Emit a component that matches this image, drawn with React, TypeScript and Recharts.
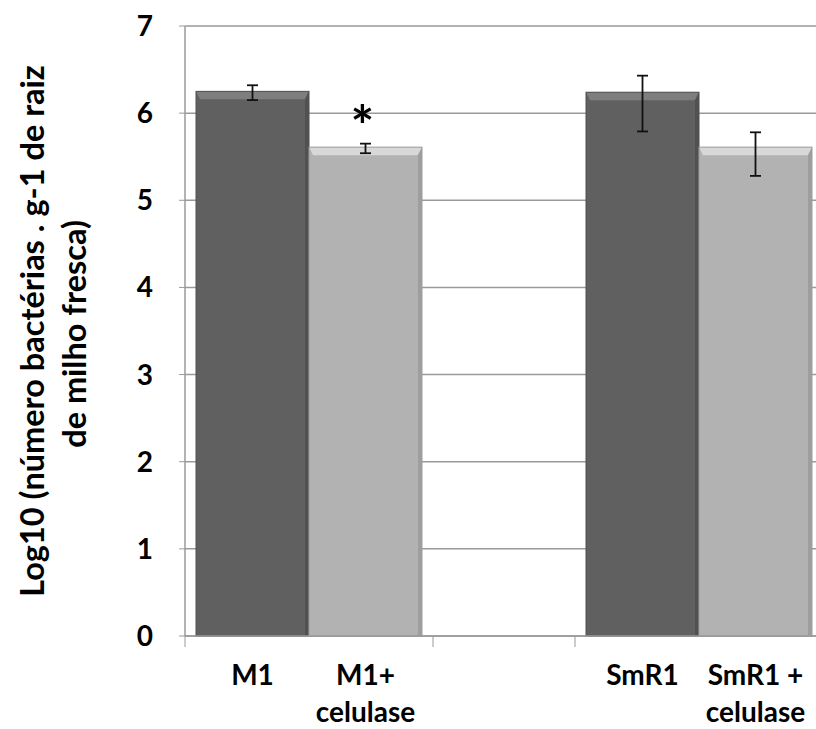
import {
  Bar,
  BarChart,
  CartesianGrid,
  ErrorBar,
  LabelList,
  XAxis,
  YAxis,
} from "recharts";

const grupos = ["M1", "SmR1"];
const semCelulase = [6.25, 6.24];
const comCelulase = [5.61, 5.61];
// [abaixo, acima]
const erroSem = [
  [0.1, 0.07],
  [0.45, 0.19],
];
const erroCom = [
  [0.07, 0.04],
  [0.33, 0.17],
];
const significancia = ["*", ""];
const rotulosSem = [["M1"], ["SmR1"]];
const rotulosCom = [
  ["M1+", "celulase"],
  ["SmR1 +", "celulase"],
];
const yTicks = [0, 1, 2, 3, 4, 5, 6, 7];

const data = grupos.map((grupo, i) => ({
  grupo,
  sem: semCelulase[i],
  com: comCelulase[i],
  erroSem: erroSem[i],
  erroCom: erroCom[i],
  sig: significancia[i],
}));

const GRID = "#9a9a9a";
const FONT = "Lato, 'Noto Sans', sans-serif";

const bevelBar = (base: string, top: string, side: string) => (props: any) => {
  const { x, y, width, height } = props;
  if (!height || height <= 0) return null;
  const b = 8;
  const s = 4;
  return (
    <g>
      <rect x={x} y={y} width={width} height={height} fill={base} />
      <polygon
        points={`${x},${y} ${x + width},${y} ${x + width - s},${y + b} ${x + s},${y + b}`}
        fill={top}
      />
      <polygon
        points={`${x + width},${y} ${x + width},${y + height} ${x + width - s},${y + height} ${x + width - s},${y + b}`}
        fill={side}
      />
      <rect x={x} y={y} width={width} height={height} fill="none" stroke={side} strokeWidth={1} />
    </g>
  );
};

const GroupTick = (props: any) => {
  const { x, y, index } = props;
  const lines: [string[], number][] = [
    [rotulosSem[index], -56.5],
    [rotulosCom[index], 56.5],
  ];
  return (
    <g>
      <line x1={x - 124} x2={x - 124} y1={y} y2={y + 11} stroke={GRID} />
      <line x1={x + 124} x2={x + 124} y1={y} y2={y + 11} stroke={GRID} />
      {lines.map(([txt, dx], j) =>
        txt.map((t, k) => (
          <text
            key={`${j}-${k}`}
            x={x + dx}
            y={y + 49 + k * 37}
            textAnchor="middle"
            fontSize={28}
            fontWeight={700}
            fontFamily={FONT}
            fill="#000"
          >
            {t}
          </text>
        ))
      )}
    </g>
  );
};

const YTitle = (props: any) => {
  const { viewBox } = props;
  const cy = viewBox.y + viewBox.height / 2;
  const common = {
    textAnchor: "middle" as const,
    dominantBaseline: "central" as const,
    fontSize: 32.5,
    fontWeight: 700,
    fontFamily: FONT,
    fill: "#000",
  };
  return (
    <g>
      <text x={31} y={cy} transform={`rotate(-90, 31, ${cy})`} {...common}>
        Log10 (número bactérias . g-1 de raiz
      </text>
      <text x={73} y={cy + 3} transform={`rotate(-90, 73, ${cy + 3})`} {...common}>
        de milho fresca)
      </text>
    </g>
  );
};

const Asterisco = (props: any) => {
  const { x, y, width, value } = props;
  if (!value) return null;
  return (
    <text
      x={x + width / 2 - 3}
      y={y - 1}
      textAnchor="middle"
      fontSize={56}
      fontWeight={700}
      fontFamily={FONT}
      fill="#000"
    >
      {value}
    </text>
  );
};

export default function App() {
  return (
    <div
      style={{
        position: "absolute",
        left: 0,
        top: 0,
        width: 816,
        height: 729,
        overflow: "hidden",
        background: "#fff",
        fontFamily: FONT,
      }}
    >
      <BarChart
        width={894}
        height={729}
        data={data}
        margin={{ top: 26, right: 0, bottom: 0, left: 0 }}
        barGap={0}
        barSize={113}
      >
        <CartesianGrid vertical={false} stroke={GRID} strokeWidth={1.5} />
        <XAxis
          dataKey="grupo"
          type="category"
          height={93}
          padding={{ left: -71, right: 0 }}
          axisLine={{ stroke: GRID, strokeWidth: 1.5 }}
          tickLine={false}
          tickSize={0}
          tickMargin={0}
          interval={0}
          tick={<GroupTick />}
        />
        <YAxis
          width={185}
          domain={[0, 7]}
          ticks={yTicks}
          interval={0}
          axisLine={{ stroke: GRID, strokeWidth: 1.5 }}
          tickLine={{ stroke: GRID }}
          tickSize={6}
          tickMargin={26}
          tick={{ fill: "#000", fontSize: 28, fontWeight: 700, fontFamily: FONT }}
          label={<YTitle />}
        />
        <Bar
          dataKey="sem"
          isAnimationActive={false}
          shape={bevelBar("#606060", "#7e7e7e", "#515151")}
        >
          <ErrorBar dataKey="erroSem" width={5.5} strokeWidth={1.8} stroke="#111" direction="y" />
        </Bar>
        <Bar
          dataKey="com"
          isAnimationActive={false}
          shape={bevelBar("#b2b2b2", "#d8d8d8", "#9e9e9e")}
        >
          <ErrorBar dataKey="erroCom" width={5.5} strokeWidth={1.8} stroke="#111" direction="y" />
          <LabelList dataKey="sig" content={<Asterisco />} />
        </Bar>
      </BarChart>
    </div>
  );
}
